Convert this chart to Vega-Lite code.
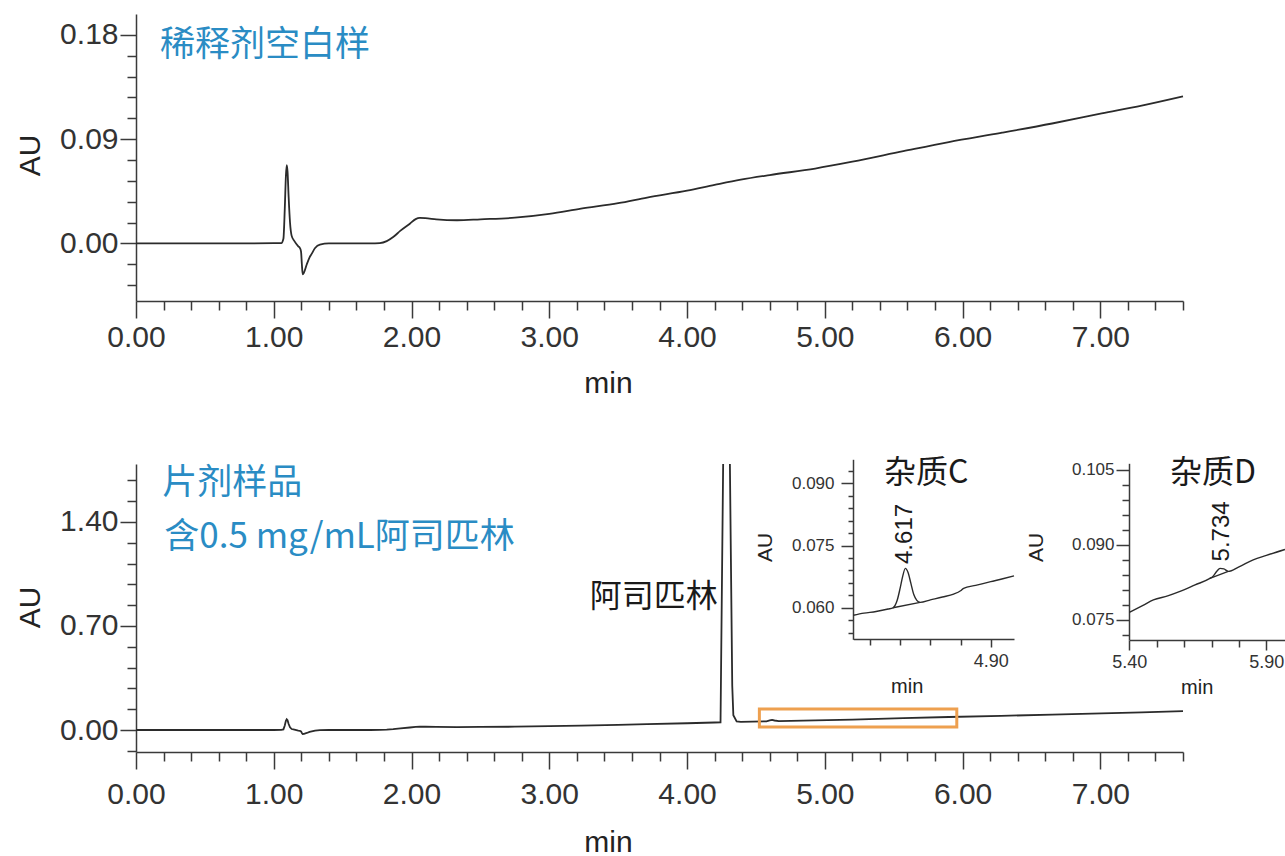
{
  "$schema": "https://vega.github.io/schema/vega-lite/v6.json",
  "width": 1285,
  "height": 856,
  "autosize": "none",
  "padding": 0,
  "background": "white",
  "config": {
    "view": {"stroke": null},
    "axis": {
      "grid": false,
      "domainColor": "#3a3a3a",
      "tickColor": "#3a3a3a",
      "domainWidth": 1.5,
      "tickWidth": 1.5,
      "labelColor": "#333333",
      "labelFont": "Liberation Sans",
      "titleFont": "Liberation Sans",
      "titleColor": "#222222",
      "titleFontWeight": "normal",
      "labelFlush": false,
      "labelOverlap": false
    }
  },
  "datasets": {
    "top": [
      {"t": 0, "au": 0}, {"t": 0.5, "au": 0}, {"t": 1.0, "au": 0.0002}, {"t": 1.055, "au": 0.0003},
      {"t": 1.07, "au": 0.004}, {"t": 1.08, "au": 0.03}, {"t": 1.088, "au": 0.058}, {"t": 1.094, "au": 0.0675},
      {"t": 1.1, "au": 0.062}, {"t": 1.108, "au": 0.04}, {"t": 1.118, "au": 0.018}, {"t": 1.13, "au": 0.0065},
      {"t": 1.15, "au": 0.002}, {"t": 1.178, "au": -0.0025}, {"t": 1.19, "au": -0.004}, {"t": 1.198, "au": -0.007},
      {"t": 1.204, "au": -0.018}, {"t": 1.21, "au": -0.0267}, {"t": 1.22, "au": -0.025}, {"t": 1.24, "au": -0.018},
      {"t": 1.26, "au": -0.012}, {"t": 1.275, "au": -0.009}, {"t": 1.3, "au": -0.004}, {"t": 1.335, "au": -0.001},
      {"t": 1.4, "au": 0}, {"t": 1.7, "au": 0}, {"t": 1.77, "au": 0.0003}, {"t": 1.82, "au": 0.002},
      {"t": 1.867, "au": 0.0055}, {"t": 1.92, "au": 0.011}, {"t": 1.988, "au": 0.017}, {"t": 2.03, "au": 0.021},
      {"t": 2.06, "au": 0.022}, {"t": 2.1, "au": 0.0218}, {"t": 2.18, "au": 0.0208}, {"t": 2.33, "au": 0.02},
      {"t": 2.5, "au": 0.0208}, {"t": 2.75, "au": 0.0222}, {"t": 3.0, "au": 0.0255}, {"t": 3.23, "au": 0.03},
      {"t": 3.5, "au": 0.0347}, {"t": 3.71, "au": 0.0396}, {"t": 4.0, "au": 0.0455}, {"t": 4.2, "au": 0.0505},
      {"t": 4.39, "au": 0.055}, {"t": 4.6, "au": 0.059}, {"t": 4.93, "au": 0.0646}, {"t": 5.2, "au": 0.0705},
      {"t": 5.57, "au": 0.0796}, {"t": 5.9, "au": 0.0875}, {"t": 6.28, "au": 0.0954}, {"t": 6.65, "au": 0.1035},
      {"t": 7.01, "au": 0.1122}, {"t": 7.3, "au": 0.119}, {"t": 7.6, "au": 0.127}
    ],
    "bottom": [
      {"t": 0, "au": 0}, {"t": 0.5, "au": 0}, {"t": 1.0, "au": 0.0002}, {"t": 1.055, "au": 0.0003},
      {"t": 1.07, "au": 0.004}, {"t": 1.08, "au": 0.03}, {"t": 1.088, "au": 0.062}, {"t": 1.094, "au": 0.072},
      {"t": 1.1, "au": 0.066}, {"t": 1.108, "au": 0.04}, {"t": 1.118, "au": 0.018}, {"t": 1.13, "au": 0.0065},
      {"t": 1.15, "au": 0.002}, {"t": 1.178, "au": -0.004}, {"t": 1.19, "au": -0.006}, {"t": 1.198, "au": -0.009},
      {"t": 1.204, "au": -0.02}, {"t": 1.21, "au": -0.027}, {"t": 1.22, "au": -0.026}, {"t": 1.24, "au": -0.02},
      {"t": 1.26, "au": -0.013}, {"t": 1.3, "au": -0.004}, {"t": 1.335, "au": -0.001},
      {"t": 1.4, "au": 0}, {"t": 1.7, "au": 0}, {"t": 1.77, "au": 0.0003}, {"t": 1.82, "au": 0.002},
      {"t": 1.867, "au": 0.0055}, {"t": 1.92, "au": 0.011}, {"t": 1.988, "au": 0.017}, {"t": 2.03, "au": 0.021},
      {"t": 2.06, "au": 0.022}, {"t": 2.1, "au": 0.0218}, {"t": 2.18, "au": 0.0208}, {"t": 2.33, "au": 0.02},
      {"t": 2.5, "au": 0.0208}, {"t": 2.75, "au": 0.0222}, {"t": 3.0, "au": 0.0255}, {"t": 3.23, "au": 0.03},
      {"t": 3.5, "au": 0.0347}, {"t": 3.71, "au": 0.0396}, {"t": 4.0, "au": 0.0455}, {"t": 4.2, "au": 0.0505},
      {"t": 4.243, "au": 0.052}, {"t": 4.262, "au": 1.79}, {"t": 4.2865, "au": null}, {"t": 4.311, "au": 1.79},
      {"t": 4.328, "au": 0.3}, {"t": 4.336, "au": 0.1}, {"t": 4.36, "au": 0.058}, {"t": 4.39, "au": 0.055},
      {"t": 4.577, "au": 0.0586}, {"t": 4.6, "au": 0.064}, {"t": 4.617, "au": 0.068}, {"t": 4.635, "au": 0.064},
      {"t": 4.666, "au": 0.0603}, {"t": 4.93, "au": 0.0646}, {"t": 5.2, "au": 0.0705},
      {"t": 5.57, "au": 0.0796}, {"t": 5.9, "au": 0.0875}, {"t": 6.28, "au": 0.0954}, {"t": 6.65, "au": 0.1035},
      {"t": 7.01, "au": 0.1122}, {"t": 7.3, "au": 0.119}, {"t": 7.6, "au": 0.127}
    ],
    "insetC": [
      {"t": 4.4446, "au": 0.0582, "series": "trace"}, {"t": 4.48, "au": 0.0587, "series": "trace"},
      {"t": 4.52, "au": 0.0591, "series": "trace"}, {"t": 4.56, "au": 0.0597, "series": "trace"},
      {"t": 4.576, "au": 0.06, "series": "trace"}, {"t": 4.59, "au": 0.0618, "series": "trace"},
      {"t": 4.6, "au": 0.0648, "series": "trace"}, {"t": 4.608, "au": 0.0675, "series": "trace"},
      {"t": 4.617, "au": 0.0695, "series": "trace"}, {"t": 4.626, "au": 0.0685, "series": "trace"},
      {"t": 4.635, "au": 0.066, "series": "trace"}, {"t": 4.645, "au": 0.0632, "series": "trace"},
      {"t": 4.655, "au": 0.0618, "series": "trace"}, {"t": 4.666, "au": 0.0613, "series": "trace"},
      {"t": 4.7, "au": 0.0619, "series": "trace"}, {"t": 4.74, "au": 0.0626, "series": "trace"},
      {"t": 4.777, "au": 0.0633, "series": "trace"}, {"t": 4.8, "au": 0.0641, "series": "trace"},
      {"t": 4.81, "au": 0.0647, "series": "trace"}, {"t": 4.85, "au": 0.0654, "series": "trace"},
      {"t": 4.9, "au": 0.0663, "series": "trace"}, {"t": 4.94, "au": 0.067, "series": "trace"},
      {"t": 4.977, "au": 0.0677, "series": "trace"},
      {"t": 4.576, "au": 0.06, "series": "baseline"}, {"t": 4.666, "au": 0.0613, "series": "baseline"}
    ],
    "insetD": [
      {"t": 5.4, "au": 0.0765, "series": "trace"}, {"t": 5.45, "au": 0.0779, "series": "trace"},
      {"t": 5.488, "au": 0.079, "series": "trace"}, {"t": 5.54, "au": 0.0798, "series": "trace"},
      {"t": 5.585, "au": 0.0807, "series": "trace"}, {"t": 5.64, "au": 0.082, "series": "trace"},
      {"t": 5.694, "au": 0.0833, "series": "trace"}, {"t": 5.705, "au": 0.0837, "series": "trace"},
      {"t": 5.72, "au": 0.0848, "series": "trace"}, {"t": 5.731, "au": 0.0853, "series": "trace"},
      {"t": 5.745, "au": 0.0852, "series": "trace"}, {"t": 5.761, "au": 0.0847, "series": "trace"},
      {"t": 5.8, "au": 0.0856, "series": "trace"}, {"t": 5.852, "au": 0.087, "series": "trace"},
      {"t": 5.9, "au": 0.0879, "series": "trace"}, {"t": 5.968, "au": 0.0891, "series": "trace"},
      {"t": 5.694, "au": 0.0833, "series": "baseline"}, {"t": 5.761, "au": 0.0847, "series": "baseline"}
    ]
  },
  "resolve": {
    "scale": {"x": "independent", "y": "independent"},
    "axis": {"x": "independent", "y": "independent"}
  },
  "layer": [
    {
      "resolve": {"axis": {"x": "independent", "y": "independent"}},
      "layer": [
        {
          "data": {"name": "top"},
          "mark": {"type": "line", "color": "#2b2b2b", "strokeWidth": 1.8, "interpolate": "monotone"},
          "encoding": {
            "x": {"field": "t", "type": "quantitative",
              "scale": {"domain": [0, 7.6], "range": [136, 1183], "nice": false, "zero": false},
              "axis": {"orient": "bottom", "offset": -555, "values": [0, 1, 2, 3, 4, 5, 6, 7], "format": ".2f",
                "tickSize": 17, "labelPadding": 4, "labelFontSize": 30,
                "title": "min", "titleFontSize": 30, "titleX": 608, "titleY": 82, "titleAlign": "center", "titleBaseline": "middle"}},
            "y": {"field": "au", "type": "quantitative",
              "scale": {"domain": [-0.0497, 0.198], "range": [301, 14], "nice": false, "zero": false},
              "axis": {"orient": "left", "offset": -136, "values": [0, 0.09, 0.18], "format": ".2f",
                "tickSize": 16, "labelPadding": 2, "labelFontSize": 30,
                "title": "AU", "titleFontSize": 30, "titleAngle": -90, "titleX": -106, "titleY": 155, "titleAlign": "center", "titleBaseline": "middle"}}
          }
        },
        {
          "data": {"values": [{"x": 0.174, "y": 0.1712, "label": "稀释剂空白样"}]},
          "mark": {"type": "text", "align": "left", "baseline": "middle", "fontSize": 35, "color": "#2a8cc4", "font": "Noto Sans CJK SC"},
          "encoding": {
            "x": {"field": "x", "type": "quantitative",
              "scale": {"domain": [0, 7.6], "range": [136, 1183], "nice": false, "zero": false},
              "axis": {"orient": "bottom", "offset": -555, "values": [0.2,0.4,0.6,0.8,1.2,1.4,1.6,1.8,2.2,2.4,2.6,2.8,3.2,3.4,3.6,3.8,4.2,4.4,4.6,4.8,5.2,5.4,5.6,5.8,6.2,6.4,6.6,6.8,7.2,7.4,7.6],
                "labels": false, "domain": false, "tickSize": 9, "title": null}},
            "y": {"field": "y", "type": "quantitative",
              "scale": {"domain": [-0.0497, 0.198], "range": [301, 14], "nice": false, "zero": false},
              "axis": {"orient": "left", "offset": -136, "values": [-0.036,-0.018,0.018,0.036,0.054,0.072,0.108,0.126,0.144,0.162],
                "labels": false, "domain": false, "tickSize": 9, "title": null}},
            "text": {"field": "label"}
          }
        }
      ]
    },
    {
      "resolve": {"axis": {"x": "independent", "y": "independent"}},
      "layer": [
        {
          "data": {"name": "bottom"},
          "mark": {"type": "line", "color": "#2b2b2b", "strokeWidth": 1.8, "interpolate": "linear"},
          "encoding": {
            "x": {"field": "t", "type": "quantitative",
              "scale": {"domain": [0, 7.6], "range": [136, 1183], "nice": false, "zero": false},
              "axis": {"orient": "bottom", "offset": -104, "values": [0, 1, 2, 3, 4, 5, 6, 7], "format": ".2f",
                "tickSize": 17, "labelPadding": 10, "labelFontSize": 30,
                "title": "min", "titleFontSize": 30, "titleX": 608, "titleY": 90, "titleAlign": "center", "titleBaseline": "middle"}},
            "y": {"field": "au", "type": "quantitative",
              "scale": {"domain": [-0.148, 1.79], "range": [752, 464], "nice": false, "zero": false},
              "axis": {"orient": "left", "offset": -136, "values": [0, 0.7, 1.4], "format": ".2f",
                "tickSize": 16, "labelPadding": 2, "labelFontSize": 30,
                "title": "AU", "titleFontSize": 30, "titleAngle": -90, "titleX": -106, "titleY": 607, "titleAlign": "center", "titleBaseline": "middle"}}
          }
        },
        {
          "data": {"values": [{"x1": 4.525, "x2": 5.958, "y1": 0.0202, "y2": 0.1414}]},
          "mark": {"type": "rect", "fill": null, "fillOpacity": 0, "stroke": "#eea04f", "strokeWidth": 3},
          "encoding": {
            "x": {"field": "x1", "type": "quantitative",
              "scale": {"domain": [0, 7.6], "range": [136, 1183], "nice": false, "zero": false}, "axis": null},
            "x2": {"field": "x2"},
            "y": {"field": "y1", "type": "quantitative",
              "scale": {"domain": [-0.148, 1.79], "range": [752, 464], "nice": false, "zero": false}, "axis": null},
            "y2": {"field": "y2"}
          }
        },
        {
          "data": {"values": [{"x": 0.19, "y": 1.662, "label": "片剂样品"}, {"x": 0.205, "y": 1.299, "label": "含0.5 mg/mL阿司匹林"}]},
          "mark": {"type": "text", "align": "left", "baseline": "middle", "fontSize": 35, "color": "#2a8cc4", "font": "Noto Sans CJK SC"},
          "encoding": {
            "x": {"field": "x", "type": "quantitative",
              "scale": {"domain": [0, 7.6], "range": [136, 1183], "nice": false, "zero": false},
              "axis": {"orient": "bottom", "offset": -104, "values": [0.2,0.4,0.6,0.8,1.2,1.4,1.6,1.8,2.2,2.4,2.6,2.8,3.2,3.4,3.6,3.8,4.2,4.4,4.6,4.8,5.2,5.4,5.6,5.8,6.2,6.4,6.6,6.8,7.2,7.4,7.6],
                "labels": false, "domain": false, "tickSize": 9, "title": null}},
            "y": {"field": "y", "type": "quantitative",
              "scale": {"domain": [-0.148, 1.79], "range": [752, 464], "nice": false, "zero": false},
              "axis": {"orient": "left", "offset": -136, "values": [-0.14,0.14,0.28,0.42,0.56,0.84,0.98,1.12,1.26,1.54,1.68],
                "labels": false, "domain": false, "tickSize": 9, "title": null}},
            "text": {"field": "label"}
          }
        },
        {
          "data": {"values": [{"x": 4.223, "y": 0.895, "label": "阿司匹林"}]},
          "mark": {"type": "text", "align": "right", "baseline": "middle", "fontSize": 32, "color": "#1a1a1a", "font": "Noto Sans CJK SC"},
          "encoding": {
            "x": {"field": "x", "type": "quantitative",
              "scale": {"domain": [0, 7.6], "range": [136, 1183], "nice": false, "zero": false}, "axis": null},
            "y": {"field": "y", "type": "quantitative",
              "scale": {"domain": [-0.148, 1.79], "range": [752, 464], "nice": false, "zero": false}, "axis": null},
            "text": {"field": "label"}
          }
        }
      ]
    },
    {
      "resolve": {"axis": {"x": "independent", "y": "independent"}},
      "layer": [
        {
          "data": {"name": "insetC"},
          "mark": {"type": "line", "color": "#2b2b2b", "strokeWidth": 1.4, "interpolate": "monotone"},
          "encoding": {
            "detail": {"field": "series"},
            "x": {"field": "t", "type": "quantitative",
              "scale": {"domain": [4.4446, 4.977], "range": [853.3, 1014], "nice": false, "zero": false},
              "axis": {"orient": "bottom", "offset": -217, "values": [4.9], "format": ".2f",
                "tickSize": 8, "labelPadding": 5, "labelFontSize": 18,
                "title": "min", "titleFontSize": 20, "titleX": 906.7, "titleY": 47, "titleAlign": "center", "titleBaseline": "middle"}},
            "y": {"field": "au", "type": "quantitative",
              "scale": {"domain": [0.0524, 0.0958], "range": [639.3, 459.3], "nice": false, "zero": false},
              "axis": {"orient": "left", "offset": -853, "values": [0.06, 0.075, 0.09], "format": ".3f",
                "tickSize": 12, "labelPadding": 7, "labelFontSize": 17,
                "title": "AU", "titleFontSize": 21, "titleAngle": -90, "titleX": -88, "titleY": 547, "titleAlign": "center", "titleBaseline": "middle"}}
          }
        },
        {
          "data": {"values": [{"x": 4.686, "y": 0.0924, "label": "杂质C"}]},
          "mark": {"type": "text", "align": "center", "baseline": "middle", "fontSize": 32, "color": "#1a1a1a", "font": "Noto Sans CJK SC"},
          "encoding": {
            "x": {"field": "x", "type": "quantitative",
              "scale": {"domain": [4.4446, 4.977], "range": [853.3, 1014], "nice": false, "zero": false},
              "axis": {"orient": "bottom", "offset": -217, "values": [4.5, 4.6, 4.7, 4.8],
                "labels": false, "domain": false, "tickSize": 6, "title": null}},
            "y": {"field": "y", "type": "quantitative",
              "scale": {"domain": [0.0524, 0.0958], "range": [639.3, 459.3], "nice": false, "zero": false},
              "axis": {"orient": "left", "offset": -853, "values": [0.054,0.057,0.063,0.066,0.069,0.072,0.078,0.081,0.084,0.087,0.093],
                "labels": false, "domain": false, "tickSize": 5, "title": null}},
            "text": {"field": "label"}
          }
        },
        {
          "data": {"values": [{"x": 4.617, "y": 0.0778, "label": "4.617"}]},
          "mark": {"type": "text", "align": "center", "baseline": "middle", "angle": 270, "fontSize": 24, "color": "#1a1a1a", "font": "Liberation Sans"},
          "encoding": {
            "x": {"field": "x", "type": "quantitative",
              "scale": {"domain": [4.4446, 4.977], "range": [853.3, 1014], "nice": false, "zero": false}, "axis": null},
            "y": {"field": "y", "type": "quantitative",
              "scale": {"domain": [0.0524, 0.0958], "range": [639.3, 459.3], "nice": false, "zero": false}, "axis": null},
            "text": {"field": "label"}
          }
        }
      ]
    },
    {
      "resolve": {"axis": {"x": "independent", "y": "independent"}},
      "layer": [
        {
          "data": {"name": "insetD"},
          "mark": {"type": "line", "color": "#2b2b2b", "strokeWidth": 1.4, "interpolate": "monotone"},
          "encoding": {
            "detail": {"field": "series"},
            "x": {"field": "t", "type": "quantitative",
              "scale": {"domain": [5.4, 5.968], "range": [1129.3, 1285], "nice": false, "zero": false},
              "axis": {"orient": "bottom", "offset": -216, "values": [5.4, 5.9], "format": ".2f",
                "tickSize": 10, "labelPadding": 3, "labelFontSize": 18,
                "title": "min", "titleFontSize": 20, "titleX": 1196.7, "titleY": 47, "titleAlign": "center", "titleBaseline": "middle"}},
            "y": {"field": "au", "type": "quantitative",
              "scale": {"domain": [0.071, 0.1063], "range": [640, 463.3], "nice": false, "zero": false},
              "axis": {"orient": "left", "offset": -1129, "values": [0.075, 0.09, 0.105], "format": ".3f",
                "tickSize": 13, "labelPadding": 2, "labelFontSize": 17,
                "title": "AU", "titleFontSize": 21, "titleAngle": -90, "titleX": -92.6, "titleY": 547, "titleAlign": "center", "titleBaseline": "middle"}}
          }
        },
        {
          "data": {"values": [{"x": 5.705, "y": 0.1044, "label": "杂质D"}]},
          "mark": {"type": "text", "align": "center", "baseline": "middle", "fontSize": 32, "color": "#1a1a1a", "font": "Noto Sans CJK SC"},
          "encoding": {
            "x": {"field": "x", "type": "quantitative",
              "scale": {"domain": [5.4, 5.968], "range": [1129.3, 1285], "nice": false, "zero": false},
              "axis": {"orient": "bottom", "offset": -216, "values": [5.5, 5.6, 5.7, 5.8],
                "labels": false, "domain": false, "tickSize": 7, "title": null}},
            "y": {"field": "y", "type": "quantitative",
              "scale": {"domain": [0.071, 0.1063], "range": [640, 463.3], "nice": false, "zero": false},
              "axis": {"orient": "left", "offset": -1129, "values": [0.072,0.078,0.081,0.084,0.087,0.093,0.096,0.099,0.102],
                "labels": false, "domain": false, "tickSize": 7, "title": null}},
            "text": {"field": "label"}
          }
        },
        {
          "data": {"values": [{"x": 5.737, "y": 0.0927, "label": "5.734"}]},
          "mark": {"type": "text", "align": "center", "baseline": "middle", "angle": 270, "fontSize": 24, "color": "#1a1a1a", "font": "Liberation Sans"},
          "encoding": {
            "x": {"field": "x", "type": "quantitative",
              "scale": {"domain": [5.4, 5.968], "range": [1129.3, 1285], "nice": false, "zero": false}, "axis": null},
            "y": {"field": "y", "type": "quantitative",
              "scale": {"domain": [0.071, 0.1063], "range": [640, 463.3], "nice": false, "zero": false}, "axis": null},
            "text": {"field": "label"}
          }
        }
      ]
    }
  ]
}
